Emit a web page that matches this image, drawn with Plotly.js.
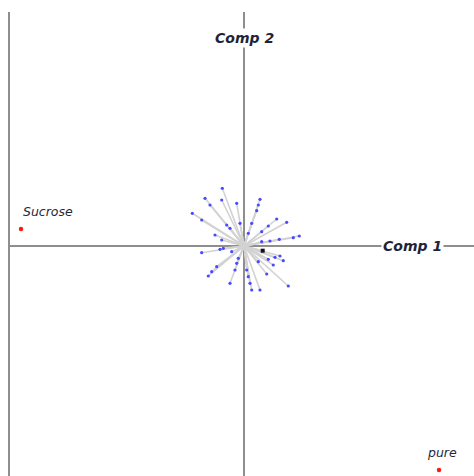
<!DOCTYPE html>
<html>
<head>
<meta charset="utf-8">
<script src="https://cdn.plot.ly/plotly-3.0.1.min.js"></script>
<style>html,body{margin:0;padding:0;background:#fff;}#chart{width:474px;height:476px;}</style>
</head>
<body>
<div id="chart"></div>
<script>
// Loading vectors (Comp 1, Comp 2)
const loadX = [-0.217,-0.39,-0.34,-0.517,-0.423,-0.223,-0.073,-0.173,-0.14,-0.04,-0.29,-0.223,
  0.16,0.143,0.127,0.077,0.043,0.327,0.427,0.243,0.177,0.553,0.493,0.353,0.26,0.177,
  0.36,0.31,0.393,0.243,0.293,0.227,0.443,0.16,0.077,0.06,0.043,0.027,0.143,
  -0.14,-0.09,-0.073,-0.057,-0.357,-0.323,-0.423,-0.24,-0.207,-0.123,-0.273];
const loadY = [0.577,0.477,0.41,0.327,0.26,0.46,0.427,0.21,0.177,0.227,0.11,0.06,
  0.467,0.41,0.353,0.227,0.127,0.27,0.237,0.2,0.143,0.10,0.083,0.067,0.05,0.043,
  -0.10,-0.113,-0.147,-0.133,-0.19,-0.28,-0.40,-0.44,-0.44,-0.373,-0.307,-0.24,-0.157,
  -0.373,-0.24,-0.173,-0.123,-0.30,-0.257,-0.067,-0.033,-0.023,-0.057,-0.207];
// Highlighted variable
const highX = [0.187];
const highY = [-0.047];
// Sample scores
const sampleNames = ["Sucrose", "pure"];
const sampleX = [-2.23, 1.95];
const sampleY = [0.17, -2.24];
// Axis labels
const axisLabels = ["Comp 1", "Comp 2"];

const lx = [], ly = [];
for (let i = 0; i < loadX.length; i++) { lx.push(0, loadX[i], null); ly.push(0, loadY[i], null); }
lx.push(0, highX[0], null); ly.push(0, highY[0], null);

const traces = [
  {x: lx, y: ly, mode: 'lines', line: {color: '#d2d2d2', width: 1.6}, hoverinfo: 'skip'},
  {x: loadX, y: loadY, mode: 'markers', marker: {color: '#4a4aff', size: 3.2}},
  {x: highX, y: highY, mode: 'markers', marker: {color: '#111', size: 4, symbol: 'square'}},
  {x: sampleX, y: sampleY, mode: 'markers', marker: {color: '#ff1a1a', size: 4.5}}
];

const labelFont = {family: 'DejaVu Sans, sans-serif', size: 12.5, color: '#26283a'};
const axisFont = {family: 'DejaVu Sans, sans-serif', size: 14, color: '#1e2436'};
const annotations = [
  {x: sampleX[0], y: sampleY[0], text: '<i>' + sampleNames[0] + '</i>', showarrow: false, xanchor: 'left', yanchor: 'middle', xshift: 0, yshift: 18, font: labelFont},
  {x: sampleX[1], y: sampleY[1], text: '<i>' + sampleNames[1] + '</i>', showarrow: false, xanchor: 'center', yanchor: 'middle', xshift: 3, yshift: 18, font: labelFont},
  {x: 1.68, y: 0, text: '<b><i>' + axisLabels[0] + '</i></b>', showarrow: false, xanchor: 'center', yanchor: 'middle', bgcolor: '#ffffff', borderpad: 1, font: axisFont},
  {x: 0, y: 2.08, text: '<b><i>' + axisLabels[1] + '</i></b>', showarrow: false, xanchor: 'center', yanchor: 'middle', bgcolor: '#ffffff', borderpad: 1, font: axisFont}
];

const layout = {
  width: 474, height: 476,
  margin: {l: 10, r: 0, t: 12, b: 0, pad: 0},
  paper_bgcolor: '#ffffff', plot_bgcolor: '#ffffff',
  showlegend: false,
  xaxis: {range: [-2.34, 2.30], showgrid: false, zeroline: true, zerolinecolor: '#8e8e8e', zerolinewidth: 2.2, showticklabels: false, ticks: '', showline: false, fixedrange: true},
  yaxis: {range: [-2.30, 2.34], showgrid: false, zeroline: true, zerolinecolor: '#8e8e8e', zerolinewidth: 2.2, showticklabels: false, ticks: '', showline: true, linecolor: '#8e8e8e', linewidth: 2.2, mirror: false, fixedrange: true},
  annotations: annotations
};

Plotly.newPlot('chart', traces, layout, {displayModeBar: false, staticPlot: true});
</script>
</body>
</html>
